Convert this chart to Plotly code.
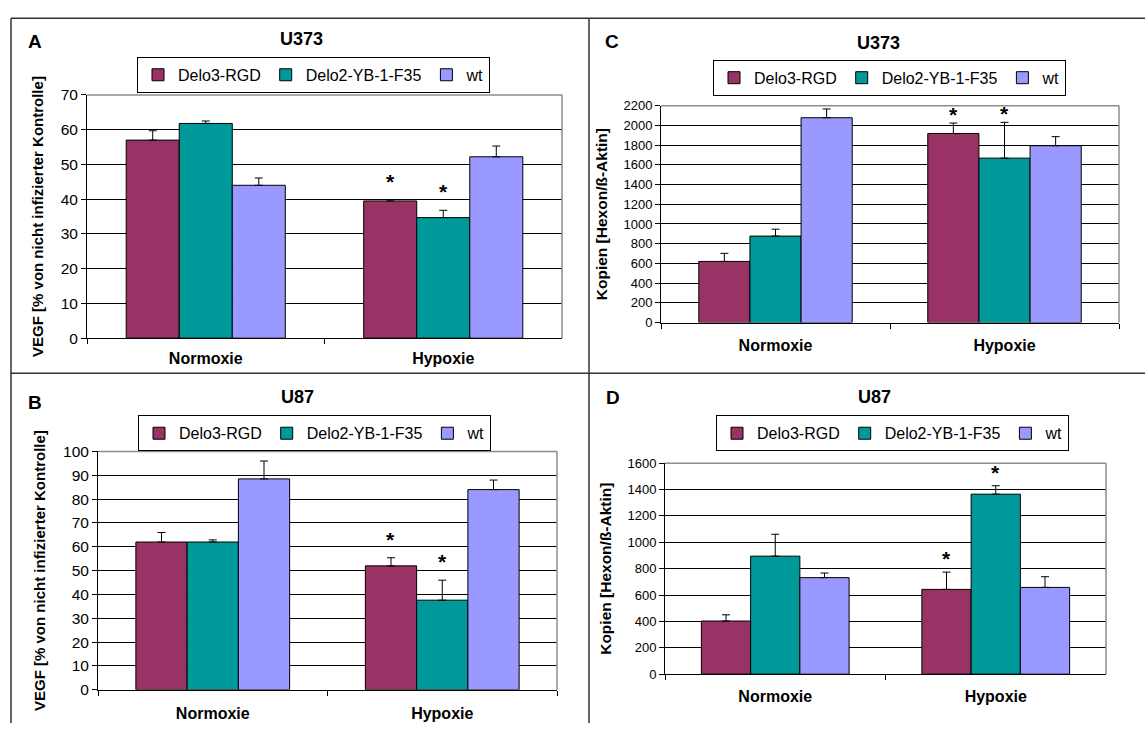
import plotly.graph_objects as go

W, H = 1145, 731

categories = ["Normoxie", "Hypoxie"]
series_names = ["Delo3-RGD", "Delo2-YB-1-F35", "wt"]
series_colors = ["#993366", "#009999", "#9999FF"]

# A: U373, VEGF
a_delo3 = [57.0, 39.5]
a_delo3_err = [2.7, 0.4]
a_delo2 = [61.8, 34.7]
a_delo2_err = [0.7, 2.1]
a_wt = [44.0, 52.2]
a_wt_err = [2.1, 3.1]

# B: U87, VEGF
b_delo3 = [62.0, 52.0]
b_delo3_err = [4.0, 3.4]
b_delo2 = [62.0, 37.6]
b_delo2_err = [0.9, 8.4]
b_wt = [88.5, 84.0]
b_wt_err = [7.5, 4.0]

# C: U373, hexon copies
c_delo3 = [620, 1918]
c_delo3_err = [82, 106]
c_delo2 = [877, 1668]
c_delo2_err = [70, 363]
c_wt = [2078, 1794]
c_wt_err = [89, 92]

# D: U87, hexon copies
d_delo3 = [403, 643]
d_delo3_err = [47, 131]
d_delo2 = [895, 1365]
d_delo2_err = [166, 64]
d_wt = [732, 658]
d_wt_err = [35, 81]

# significance marks per series and condition
sig_delo3 = ["", "*"]
sig_delo2 = ["", "*"]
sig_wt = ["", ""]

FONT = "Arial, Liberation Sans, sans-serif"
BARGAP = 0.33

# panel geometry in pixels: plot box (left, right, top, bottom)
panels = [
    dict(letter="A", title="U373", ytitle="VEGF [% von nicht infizierter Kontrolle]",
         box=(87, 562, 88, 337), yrange=70, dtick=10, tickfont=15.5, titlefont=15,
         vals=[a_delo3, a_delo2, a_wt], errs=[a_delo3_err, a_delo2_err, a_wt_err],
         letter_xy=(35, 33), title_xy=(301, 31), legend_xy=(137, 49),
         xstand=6, ystand=13, staryshift=5),
    dict(letter="C", title="U373", ytitle="Kopien [Hexon/ß-Aktin]",
         box=(661, 1119, 99, 321), yrange=2200, dtick=200, tickfont=13, titlefont=15.5,
         vals=[c_delo3, c_delo2, c_wt], errs=[c_delo3_err, c_delo2_err, c_wt_err],
         letter_xy=(612, 33), title_xy=(878, 35), legend_xy=(713, 52),
         xstand=8, ystand=12, staryshift=-5),
    dict(letter="B", title="U87", ytitle="VEGF [% von nicht infizierter Kontrolle]",
         box=(98, 557, 453, 697), yrange=100, dtick=10, tickfont=15.5, titlefont=15,
         vals=[b_delo3, b_delo2, b_wt], errs=[b_delo3_err, b_delo2_err, b_wt_err],
         letter_xy=(35, 403), title_xy=(297, 397), legend_xy=(138, 416),
         xstand=9, ystand=13, staryshift=5),
    dict(letter="D", title="U87", ytitle="Kopien [Hexon/ß-Aktin]",
         box=(665, 1106, 465, 681), yrange=1600, dtick=200, tickfont=13, titlefont=15.5,
         vals=[d_delo3, d_delo2, d_wt], errs=[d_delo3_err, d_delo2_err, d_wt_err],
         letter_xy=(613, 398), title_xy=(874, 397), legend_xy=(716, 416),
         xstand=8, ystand=12, staryshift=0),
]
sigs = [sig_delo3, sig_delo2, sig_wt]


def px_x(x):
    return x / W


def px_y(y):
    return 1 - y / H


fig = go.Figure()
annotations = []
shapes = []
layout = {}

for k, p in enumerate(panels):
    n = "" if k == 0 else str(k + 1)
    xa, ya, lg = "x" + n, "y" + n, "legend" + n
    left, right, top, bottom = p["box"]

    for i, name in enumerate(series_names):
        fig.add_trace(go.Bar(
            x=categories, y=p["vals"][i], name=name,
            marker=dict(color=series_colors[i], line=dict(color="black", width=1)),
            error_y=dict(type="data", symmetric=False, array=p["errs"][i],
                         arrayminus=[0] * len(categories), color="black",
                         thickness=1, width=4),
            xaxis=xa, yaxis=ya, legend=lg, hoverinfo="x+y+name",
        ))

    layout["xaxis" + n] = dict(
        domain=[px_x(left), px_x(right)], anchor=ya, type="category",
        showline=True, linecolor="black", linewidth=1,
        ticks="outside", tickson="boundaries", ticklen=5, tickcolor="black",
        showgrid=False, ticklabelstandoff=p["xstand"],
        tickfont=dict(family=FONT, size=16, color="black", weight="bold"),
        fixedrange=True,
    )
    layout["yaxis" + n] = dict(
        domain=[px_y(bottom), px_y(top)], anchor=xa,
        range=[0, p["yrange"]], dtick=p["dtick"], tick0=0,
        showline=True, linecolor="black", linewidth=1,
        ticks="outside", ticklen=5, tickcolor="black",
        showgrid=True, gridcolor="black", gridwidth=1, zeroline=False,
        tickfont=dict(family=FONT, size=p["tickfont"], color="black"),
        title=dict(text=p["ytitle"], standoff=p["ystand"],
                   font=dict(family=FONT, size=p["titlefont"], color="black", weight="bold")),
        fixedrange=True,
    )
    lx, ly = p["legend_xy"]
    layout[lg] = dict(
        x=px_x(lx), y=px_y(ly), xanchor="left", yanchor="top",
        orientation="h", bgcolor="white", bordercolor="black", borderwidth=1,
        font=dict(family=FONT, size=16, color="black"),
        traceorder="normal", itemclick=False, itemdoubleclick=False,
    )

    # plot-area border on the top and right sides
    shapes.append(dict(type="line", xref=xa + " domain", yref=ya + " domain",
                       x0=0, x1=1, y0=1, y1=1, line=dict(color="#8c8c8c", width=1.5),
                       layer="above"))
    shapes.append(dict(type="line", xref=xa + " domain", yref=ya + " domain",
                       x0=1, x1=1, y0=0, y1=1, line=dict(color="#8c8c8c", width=1.5),
                       layer="above"))

    # significance stars centred over the grouped bars
    bar_w = (right - left) / len(categories) * (1 - BARGAP) / len(series_names)
    for i in range(len(series_names)):
        for j, cat in enumerate(categories):
            if sigs[i][j]:
                annotations.append(dict(
                    x=cat, y=p["vals"][i][j] + p["errs"][i][j], xref=xa, yref=ya,
                    text=sigs[i][j], showarrow=False, yanchor="bottom",
                    xshift=(i - 1) * bar_w, yshift=p["staryshift"],
                    font=dict(family=FONT, size=21, color="black", weight="bold"),
                ))

    # panel letter and panel title
    annotations.append(dict(
        x=px_x(p["letter_xy"][0]), y=px_y(p["letter_xy"][1]), xref="paper", yref="paper",
        text=p["letter"], showarrow=False, xanchor="center", yanchor="middle",
        font=dict(family=FONT, size=19, color="black", weight="bold"),
    ))
    annotations.append(dict(
        x=px_x(p["title_xy"][0]), y=px_y(p["title_xy"][1]), xref="paper", yref="paper",
        text=p["title"], showarrow=False, xanchor="center", yanchor="middle",
        font=dict(family=FONT, size=18, color="black", weight="bold"),
    ))

# frame lines separating the four panels
frame = dict(color="#333333", width=1.5)
shapes += [
    dict(type="line", xref="paper", yref="paper", x0=px_x(11), x1=1, y0=px_y(9.5), y1=px_y(9.5), line=frame),
    dict(type="line", xref="paper", yref="paper", x0=px_x(11), x1=px_x(11), y0=px_y(9.5), y1=0, line=frame),
    dict(type="line", xref="paper", yref="paper", x0=px_x(589), x1=px_x(589), y0=px_y(9.5), y1=0, line=frame),
    dict(type="line", xref="paper", yref="paper", x0=px_x(11), x1=1, y0=px_y(373), y1=px_y(373), line=frame),
]

fig.update_layout(
    width=W, height=H, autosize=False,
    margin=dict(l=0, r=0, t=0, b=0),
    paper_bgcolor="white", plot_bgcolor="white",
    barmode="group", bargap=BARGAP, bargroupgap=0,
    font=dict(family=FONT, color="black"),
    annotations=annotations, shapes=shapes,
    **layout,
)

fig.write_html("out.html", config={"displayModeBar": False})
